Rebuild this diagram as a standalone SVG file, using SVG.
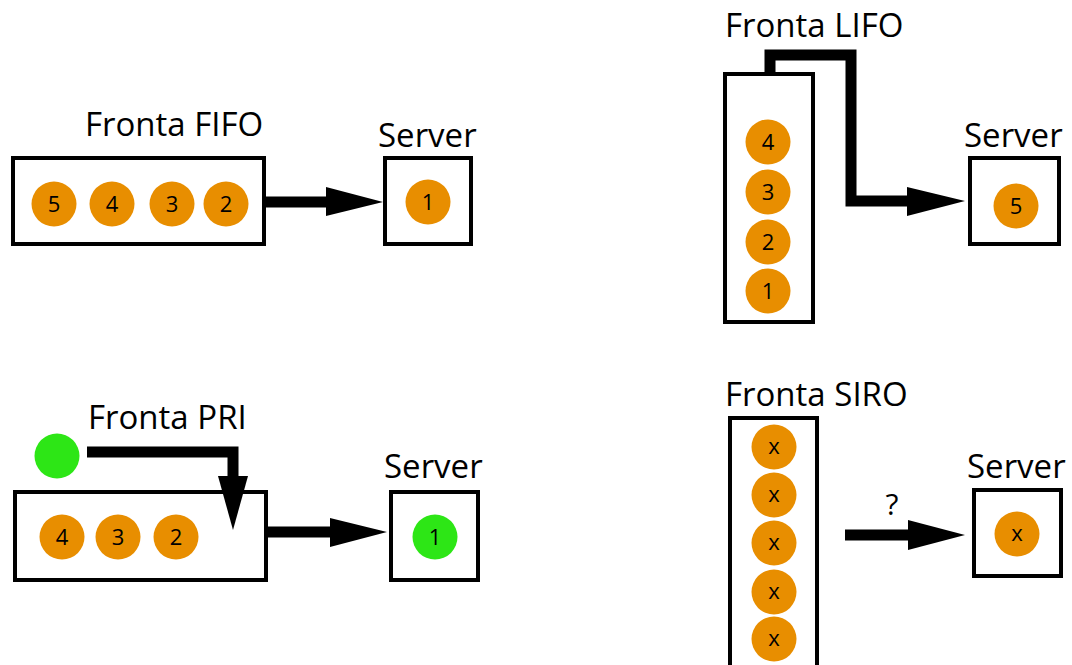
<svg xmlns="http://www.w3.org/2000/svg" width="1072" height="665" viewBox="0 0 1072 665">
<style>
.box{fill:#fff;stroke:#000;stroke-width:4}
.o{fill:#e88e00}
.g{fill:#2de616}
.lbl{font-family:"Open Sans","Noto Sans","DejaVu Sans",sans-serif;font-size:33px;fill:#000}
.num{font-family:"Open Sans","Noto Sans","DejaVu Sans",sans-serif;font-size:22px;fill:#000;text-anchor:middle}
.ln{fill:none;stroke:#000;stroke-width:11;stroke-linejoin:miter}
.hd{fill:#000}
</style>
<rect width="1072" height="665" fill="#fff"/>
<g id="fifo-queue">
<text class="lbl" x="85" y="136">Fronta FIFO</text>
<rect class="box" x="13" y="158" width="251" height="86"/>
<circle class="o" cx="54" cy="204" r="22.5"/><text class="num" x="54" y="212">5</text>
<circle class="o" cx="112" cy="204" r="22.5"/><text class="num" x="112" y="212">4</text>
<circle class="o" cx="172" cy="204" r="22.5"/><text class="num" x="172" y="212">3</text>
<circle class="o" cx="226" cy="204" r="22.5"/><text class="num" x="226" y="212">2</text>
</g>
<g id="fifo-server">
<text class="lbl" x="378" y="147">Server</text>
<rect class="box" x="385" y="158" width="86" height="86"/>
<circle class="o" cx="428" cy="202" r="22.5"/><text class="num" x="428" y="210">1</text>
</g>
<g id="lifo-queue">
<text class="lbl" x="725" y="37">Fronta LIFO</text>
<rect class="box" x="725" y="74" width="88" height="248"/>
<circle class="o" cx="768" cy="142" r="22.5"/><text class="num" x="768" y="150">4</text>
<circle class="o" cx="768" cy="192" r="22.5"/><text class="num" x="768" y="200">3</text>
<circle class="o" cx="768" cy="242" r="22.5"/><text class="num" x="768" y="250">2</text>
<circle class="o" cx="768" cy="291" r="22.5"/><text class="num" x="768" y="299">1</text>
</g>
<g id="lifo-server">
<text class="lbl" x="964" y="147">Server</text>
<rect class="box" x="970" y="158" width="89" height="86"/>
<circle class="o" cx="1016" cy="206" r="22.5"/><text class="num" x="1016" y="214">5</text>
</g>
<g id="pri-queue">
<text class="lbl" x="88" y="429">Fronta PRI</text>
<circle class="g" cx="57" cy="456" r="22.5"/>
<rect class="box" x="15" y="492" width="251" height="88"/>
<circle class="o" cx="62" cy="537" r="22.5"/><text class="num" x="62" y="545">4</text>
<circle class="o" cx="118" cy="537" r="22.5"/><text class="num" x="118" y="545">3</text>
<circle class="o" cx="176" cy="537" r="22.5"/><text class="num" x="176" y="545">2</text>
</g>
<g id="pri-server">
<text class="lbl" x="384" y="478">Server</text>
<rect class="box" x="391" y="492" width="87" height="88"/>
<circle class="g" cx="435" cy="537" r="22.5"/><text class="num" x="435" y="545">1</text>
</g>
<g id="siro-queue">
<text class="lbl" x="725" y="406">Fronta SIRO</text>
<rect class="box" x="730" y="418" width="87" height="260"/>
<circle class="o" cx="774" cy="447" r="22.5"/><text class="num" x="774" y="454">x</text>
<circle class="o" cx="774" cy="495" r="22.5"/><text class="num" x="774" y="502">x</text>
<circle class="o" cx="774" cy="543" r="22.5"/><text class="num" x="774" y="550">x</text>
<circle class="o" cx="774" cy="592" r="22.5"/><text class="num" x="774" y="599">x</text>
<circle class="o" cx="774" cy="639" r="22.5"/><text class="num" x="774" y="646">x</text>
</g>
<g id="siro-server">
<text class="lbl" x="967" y="478">Server</text>
<rect class="box" x="974" y="490" width="87" height="86"/>
<circle class="o" cx="1017" cy="534" r="22.5"/><text class="num" x="1017" y="541">x</text>
</g>
<g id="connectors">
<line class="ln" x1="266" y1="202" x2="328" y2="202"/>
<polygon class="hd" points="326,187 383,202 326,216"/>
<path class="ln" d="M770,72 V55 H851 V201 H910"/>
<polygon class="hd" points="907,187 965,201 907,216"/>
<path class="ln" d="M87,452 H233 V478"/>
<polygon class="hd" points="218,476 248,476 233,530"/>
<line class="ln" x1="268" y1="532" x2="332" y2="532"/>
<polygon class="hd" points="330,518 387,532 330,547"/>
<line class="ln" x1="845" y1="535" x2="910" y2="535"/>
<polygon class="hd" points="908,520 965,535 908,550"/>
<text class="lbl" x="892" y="515" text-anchor="middle" style="font-size:30px">?</text>
</g>
</svg>
